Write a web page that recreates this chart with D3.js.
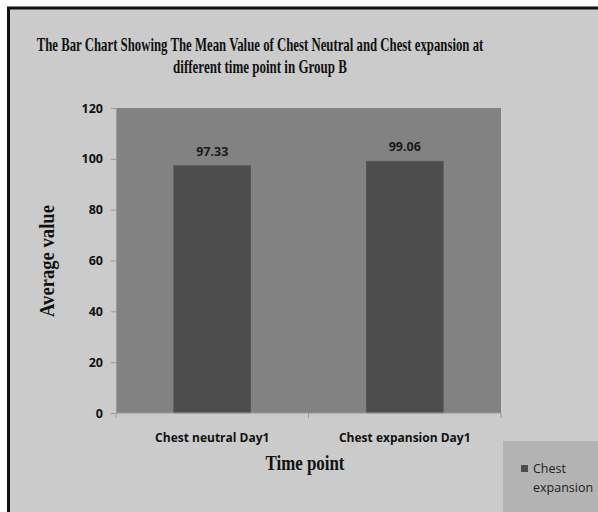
<!DOCTYPE html>
<html>
<head>
<meta charset="utf-8">
<script src="https://cdn.jsdelivr.net/npm/d3@7"></script>
<style>
  html, body { margin: 0; padding: 0; background: #ffffff; }
  svg { display: block; }
</style>
</head>
<body>
<svg id="chart" width="598" height="512"></svg>
<script>
// Chart data
const categories = ["Chest neutral Day1", "Chest expansion Day1"];
const values = [97.33, 99.06];
const yTicks = [0, 20, 40, 60, 80, 100, 120];
const seriesName = ["Chest", "expansion"];
const titleLines = [
  "The Bar Chart Showing The Mean Value of Chest Neutral and Chest expansion at",
  "different time point in Group B"
];

const svg = d3.select("#chart");
const W = 598, H = 512;

// Squeeze a text horizontally to a given width around its anchor point
function fitWidth(sel, cx, cy, width, rotate) {
  sel.each(function () {
    const w = this.getComputedTextLength();
    const s = width / w;
    d3.select(this)
      .attr("x", 0).attr("y", 0)
      .attr("transform", `translate(${cx},${cy})${rotate ? " rotate(-90)" : ""} scale(${s},1)`);
  });
}

// Outer frame
svg.append("rect").attr("x", 0).attr("y", 0).attr("width", W).attr("height", H).attr("fill", "#ffffff");
svg.append("rect").attr("x", 8.5).attr("y", 8).attr("width", W).attr("height", H)
  .attr("fill", "#cbcbcb").attr("stroke", "#111").attr("stroke-width", 3);

const plot = { left: 116, top: 108, right: 501, bottom: 413 };

const x = d3.scaleBand()
  .domain(categories)
  .range([plot.left, plot.right])
  .paddingInner(0.6)
  .paddingOuter(0.3);

const y = d3.scaleLinear().domain([0, 120]).range([plot.bottom, plot.top]);

// Plot area
svg.append("rect")
  .attr("x", plot.left).attr("y", plot.top)
  .attr("width", plot.right - plot.left).attr("height", plot.bottom - plot.top)
  .attr("fill", "#828282");

// Bars
svg.selectAll("rect.bar").data(values).join("rect")
  .attr("class", "bar")
  .attr("x", (d, i) => x(categories[i]))
  .attr("y", d => y(d))
  .attr("width", x.bandwidth())
  .attr("height", d => y(0) - y(d))
  .attr("fill", "#4d4d4d")
  .attr("stroke", "#555").attr("stroke-width", 0.5);

// Value labels
svg.selectAll("text.val").data(values).join("text")
  .attr("class", "val")
  .attr("x", (d, i) => x(categories[i]) + x.bandwidth() / 2)
  .attr("y", d => y(d) - 10)
  .attr("text-anchor", "middle")
  .attr("font-family", "'Open Sans', sans-serif")
  .attr("font-weight", "bold")
  .attr("font-size", 12.5)
  .attr("fill", "#1a1a1a")
  .text(d => d.toFixed(2));

// Y axis
const yAxis = svg.append("g")
  .attr("transform", `translate(${plot.left},0)`)
  .call(d3.axisLeft(y).tickValues(yTicks).tickSize(5).tickPadding(8));
yAxis.select(".domain").attr("stroke", "#9a9a9a");
yAxis.selectAll(".tick line").attr("stroke", "#9a9a9a");
yAxis.selectAll(".tick text")
  .attr("font-family", "'Open Sans', sans-serif")
  .attr("font-weight", "bold")
  .attr("font-size", 12.5)
  .attr("fill", "#111");

// X axis with tick marks at category boundaries
const xAxisG = svg.append("g").attr("transform", `translate(0,${plot.bottom})`);
xAxisG.append("line")
  .attr("x1", plot.left).attr("x2", plot.right)
  .attr("stroke", "#9a9a9a");
const boundaries = [plot.left, (plot.left + plot.right) / 2, plot.right];
xAxisG.selectAll("line.tk").data(boundaries).join("line")
  .attr("class", "tk")
  .attr("x1", d => d).attr("x2", d => d)
  .attr("y1", 0).attr("y2", 5)
  .attr("stroke", "#9a9a9a");
xAxisG.selectAll("text.cat").data(categories).join("text")
  .attr("class", "cat")
  .attr("x", d => x(d) + x.bandwidth() / 2)
  .attr("y", 29)
  .attr("text-anchor", "middle")
  .attr("font-family", "'Open Sans', sans-serif")
  .attr("font-weight", "bold")
  .attr("font-size", 12)
  .attr("fill", "#111")
  .text(d => d);

// Axis titles
svg.append("text")
  .attr("text-anchor", "middle")
  .attr("font-family", "'Liberation Serif', serif")
  .attr("font-weight", "bold")
  .attr("font-size", 21)
  .attr("fill", "#111")
  .text("Time point")
  .call(fitWidth, 305, 470, 79, false);

svg.append("text")
  .attr("text-anchor", "middle")
  .attr("font-family", "'Liberation Serif', serif")
  .attr("font-weight", "bold")
  .attr("font-size", 21)
  .attr("fill", "#111")
  .text("Average value")
  .call(fitWidth, 54, 261, 112, true);

// Title
svg.selectAll("text.title").data(titleLines).join("text")
  .attr("class", "title")
  .attr("text-anchor", "middle")
  .attr("font-family", "'Liberation Serif', serif")
  .attr("font-weight", "bold")
  .attr("font-size", 18.5)
  .attr("fill", "#111")
  .text(d => d)
  .each(function (d, i) {
    d3.select(this).call(fitWidth, 260, 51 + i * 22, i === 0 ? 447 : 174, false);
  });

// Legend
const lg = svg.append("g");
lg.append("rect")
  .attr("x", 503).attr("y", 441).attr("width", 100).attr("height", 80)
  .attr("fill", "#b3b3b3");
lg.append("rect")
  .attr("x", 521).attr("y", 465).attr("width", 7).attr("height", 7)
  .attr("fill", "#4d4d4d");
lg.selectAll("text").data(seriesName).join("text")
  .attr("x", 533)
  .attr("y", (d, i) => 473 + i * 19)
  .attr("font-family", "'Open Sans', sans-serif")
  .attr("font-size", 12.5)
  .attr("fill", "#222")
  .text(d => d);
</script>
</body>
</html>
